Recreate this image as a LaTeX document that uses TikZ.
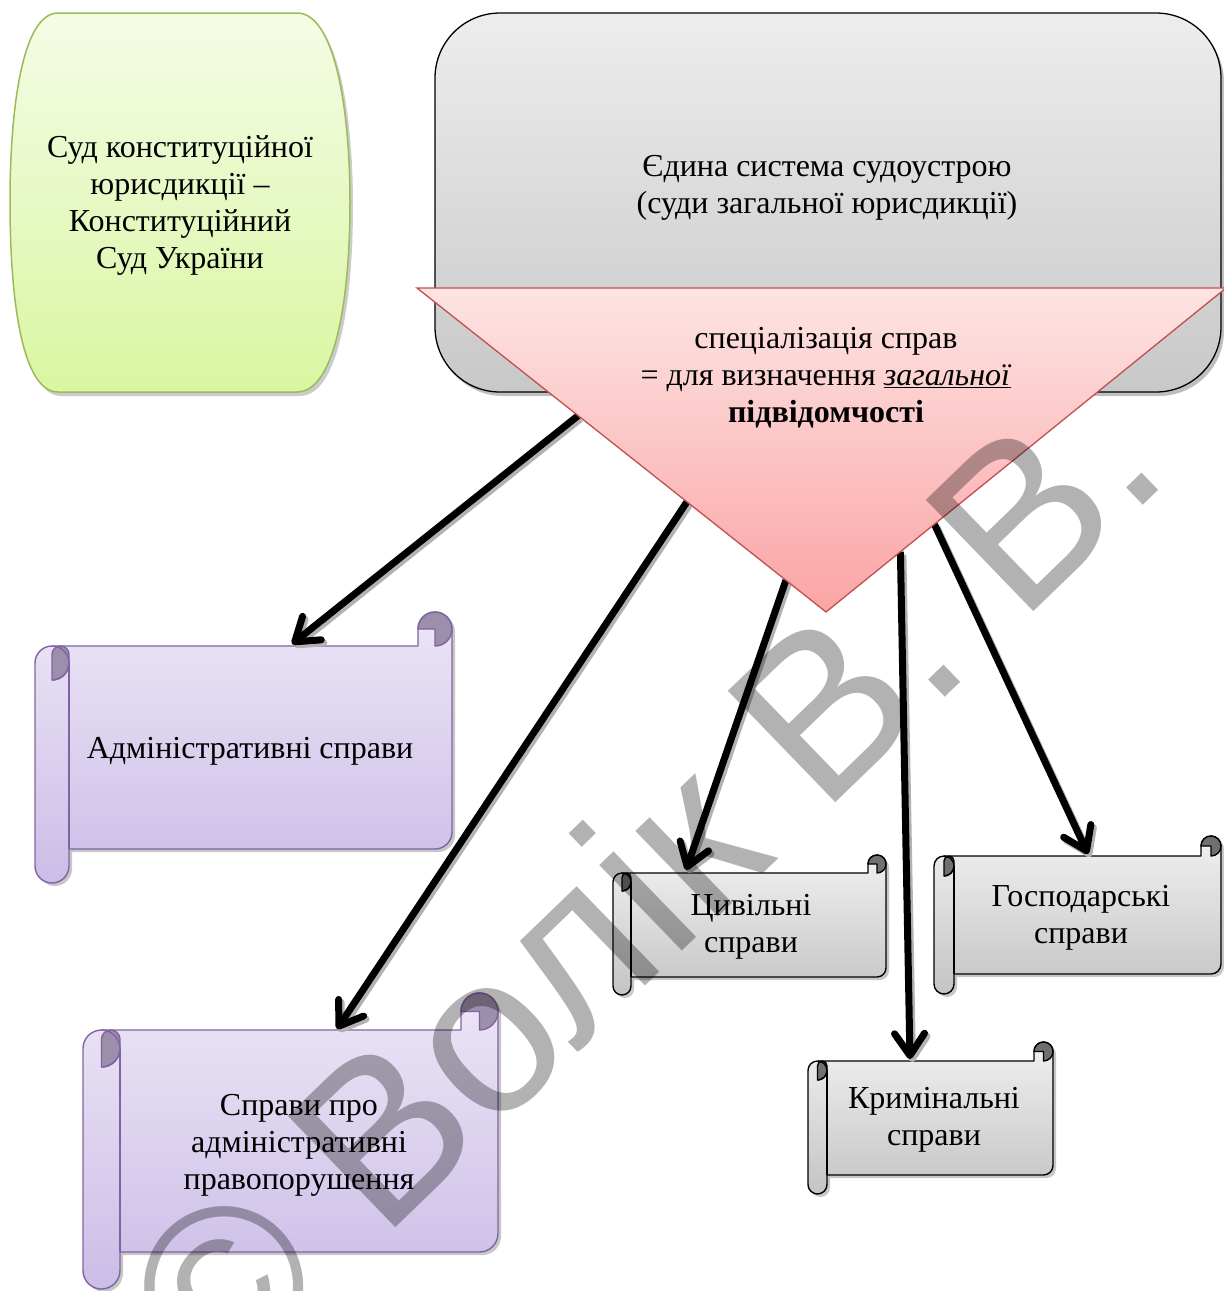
\documentclass[tikz,border=0pt]{standalone}
\usepackage{fontspec}
\setmainfont{Liberation Serif}
\setsansfont{Liberation Sans}
\usetikzlibrary{arrows.meta,calc}

\definecolor{grnTop}{RGB}{245,252,230}
\definecolor{grnBot}{RGB}{217,246,162}
\definecolor{grnLine}{RGB}{155,187,89}
\definecolor{gryTop}{RGB}{237,237,237}
\definecolor{gryBot}{RGB}{200,200,200}
\definecolor{triTop}{RGB}{253,228,228}
\definecolor{triBot}{RGB}{251,164,164}
\definecolor{triLine}{RGB}{192,80,77}
\definecolor{purTop}{RGB}{236,230,246}
\definecolor{purBot}{RGB}{203,189,231}
\definecolor{purLine}{RGB}{128,100,162}
\definecolor{purCurl}{RGB}{156,143,171}
\definecolor{sgTop}{RGB}{240,240,240}
\definecolor{sgBot}{RGB}{196,196,196}
\definecolor{sgCurl}{RGB}{112,112,112}

% horizontal scroll: #1 left, #2 top, #3 right, #4 bottom, #5 roll size,
% #6 top colour, #7 bottom colour, #8 line colour, #9 curl colour
\newcommand\drawscroll[9]{%
  \path[fill=black,opacity=.22,shift={(3,3)}]
    ({#3},{#2+#5/2}) -- ({#3},{#4-#5*1.5}) arc[start angle=0,end angle=90,radius={#5/2}]
    -- ({#1+#5},{#4-#5}) -- ({#1+#5},{#4-#5/2}) arc[start angle=0,end angle=180,radius={#5/2}]
    -- ({#1},{#2+#5*1.5}) arc[start angle=180,end angle=270,radius={#5/2}]
    -- ({#3-#5},{#2+#5}) -- ({#3-#5},{#2+#5/2}) arc[start angle=180,end angle=360,radius={#5/2}] -- cycle;
  \path[draw=#8,line width=1.4pt,line join=round,top color=#6,bottom color=#7]
    ({#3},{#2+#5/2}) -- ({#3},{#4-#5*1.5}) arc[start angle=0,end angle=90,radius={#5/2}]
    -- ({#1+#5},{#4-#5}) -- ({#1+#5},{#4-#5/2}) arc[start angle=0,end angle=180,radius={#5/2}]
    -- ({#1},{#2+#5*1.5}) arc[start angle=180,end angle=270,radius={#5/2}]
    -- ({#3-#5},{#2+#5}) -- ({#3-#5},{#2+#5/2}) arc[start angle=180,end angle=360,radius={#5/2}] -- cycle;
  % left roll
  \path[draw=#8,line width=1.4pt,line join=round,fill=#9]
    ({#1+#5/2},{#2+#5*1.25}) arc[start angle=180,end angle=360,radius={#5/4}]
    -- ({#1+#5},{#2+#5*1.5}) arc[start angle=0,end angle=90,radius={#5/2}] -- cycle;
  \draw[#8,line width=1.4pt] ({#1+#5/2},{#2+#5}) arc[start angle=-90,end angle=90,radius={#5/2}];
  \draw[#8,line width=1.4pt] ({#1+#5},{#2+#5*1.5}) -- ({#1+#5},{#4-#5});
  % right roll
  \path[draw=#8,line width=1.4pt,line join=round,fill=#9]
    ({#3-#5/2},{#2+#5}) arc[start angle=90,end angle=-180,radius={#5/2}]
    -- ({#3-#5/2},{#2+#5/2}) -- cycle;
}

\tikzset{
  txt/.style={align=center,inner sep=0pt,font=\fontsize{32}{37}\selectfont},
  conn/.style={line width=7pt,-{Straight Barb[length=22pt,width=30pt,round]}},
  connshadow/.style={conn,draw=black!30,transform canvas={shift={(2.5pt,-3pt)}}},
}

\begin{document}
\begin{tikzpicture}[x=1pt,y=-1pt]
\useasboundingbox (0,0) rectangle (1224,1291);
\clip (0,0) rectangle (1224,1291);

% constitutional court
\path[fill=black,opacity=.2,shift={(3,4)}]
  (58,13) -- (297,13) .. controls (335,13) and (350,110) .. (350,202)
  .. controls (350,300) and (335,392) .. (297,392) -- (58,392)
  .. controls (22,392) and (10,300) .. (10,202)
  .. controls (10,110) and (22,13) .. (58,13) -- cycle;
\path[draw=grnLine,line width=1.5pt,top color=grnTop,bottom color=grnBot]
  (58,13) -- (297,13) .. controls (335,13) and (350,110) .. (350,202)
  .. controls (350,300) and (335,392) .. (297,392) -- (58,392)
  .. controls (22,392) and (10,300) .. (10,202)
  .. controls (10,110) and (22,13) .. (58,13) -- cycle;

% general jurisdiction box
\path[fill=black,opacity=.25,rounded corners=65pt] (438,17) rectangle (1224,396);
\path[draw=black,line width=1.3pt,top color=gryTop,bottom color=gryBot,rounded corners=65pt]
  (435,13) rectangle (1221,392);

% scrolls
\drawscroll{35}{612}{452}{883}{34}{purTop}{purBot}{purLine}{purCurl}
\drawscroll{83}{993}{498}{1289}{37}{purTop}{purBot}{purLine}{purCurl}
\drawscroll{613}{855}{886}{995}{18}{sgTop}{sgBot}{black}{sgCurl}
\drawscroll{934}{836}{1221}{994}{20}{sgTop}{sgBot}{black}{sgCurl}
\drawscroll{808}{1042}{1053}{1194}{19}{sgTop}{sgBot}{black}{sgCurl}

% specialisation triangle corners and edge points
\coordinate (tl) at (417,288);
\coordinate (tr) at (1226,288);
\coordinate (tb) at (826,612);
\coordinate (e1) at ($(tl)!0.394!(tb)$);
\coordinate (e2) at ($(tl)!0.660!(tb)$);
\coordinate (e3) at ($(tl)!0.902!(tb)$);
\coordinate (e4) at ($(tb)!0.186!(tr)$);
\coordinate (e5) at ($(tb)!0.271!(tr)$);

% arrow targets on the scrolls
\coordinate (t1) at (292,644);
\coordinate (t2) at (337,1029);
\coordinate (t3) at (686,870);
\coordinate (t4) at (910,1059);
\coordinate (t5) at (1088,854);

\foreach \s/\t in {e1/t1,e2/t2,e3/t3,e4/t4,e5/t5}
  \draw[connshadow] (\s) -- (\t);
\foreach \s/\t in {e1/t1,e2/t2,e3/t3,e4/t4,e5/t5}
  \draw[conn] (\s) -- (\t);

\path[draw=triLine,line width=1.3pt,top color=triTop,bottom color=triBot]
  (tl) -- (tr) -- (tb) -- cycle;

% texts
\node[txt] (ksu) at (180,205) {Суд конституційної\\юрисдикції –\\Конституційний\\Суд України};
\node[txt] (sys) at (827,188) {Єдина система судоустрою\\(суди загальної юрисдикції)};
\node[txt] (spec) at (826,378) {спеціалізація справ\\= для визначення \underline{\textit{загальної}}\\\textbf{підвідомчості}};
\node[txt] (adm) at (250,751) {Адміністративні справи};
\node[txt] (off) at (299,1145) {Справи про\\адміністративні\\правопорушення};
\node[txt] (civ) at (751,927) {Цивільні\\справи};
\node[txt] (com) at (1081,918) {Господарські\\справи};
\node[txt] (crim) at (934,1120) {Кримінальні\\справи};

% watermark
\node[rotate=44,text=black,text opacity=0.3,inner sep=0pt,
  font=\sffamily\fontsize{225}{225}\selectfont] (wm) at (640,880) {© Волік В. В.};
\end{tikzpicture}
\end{document}
